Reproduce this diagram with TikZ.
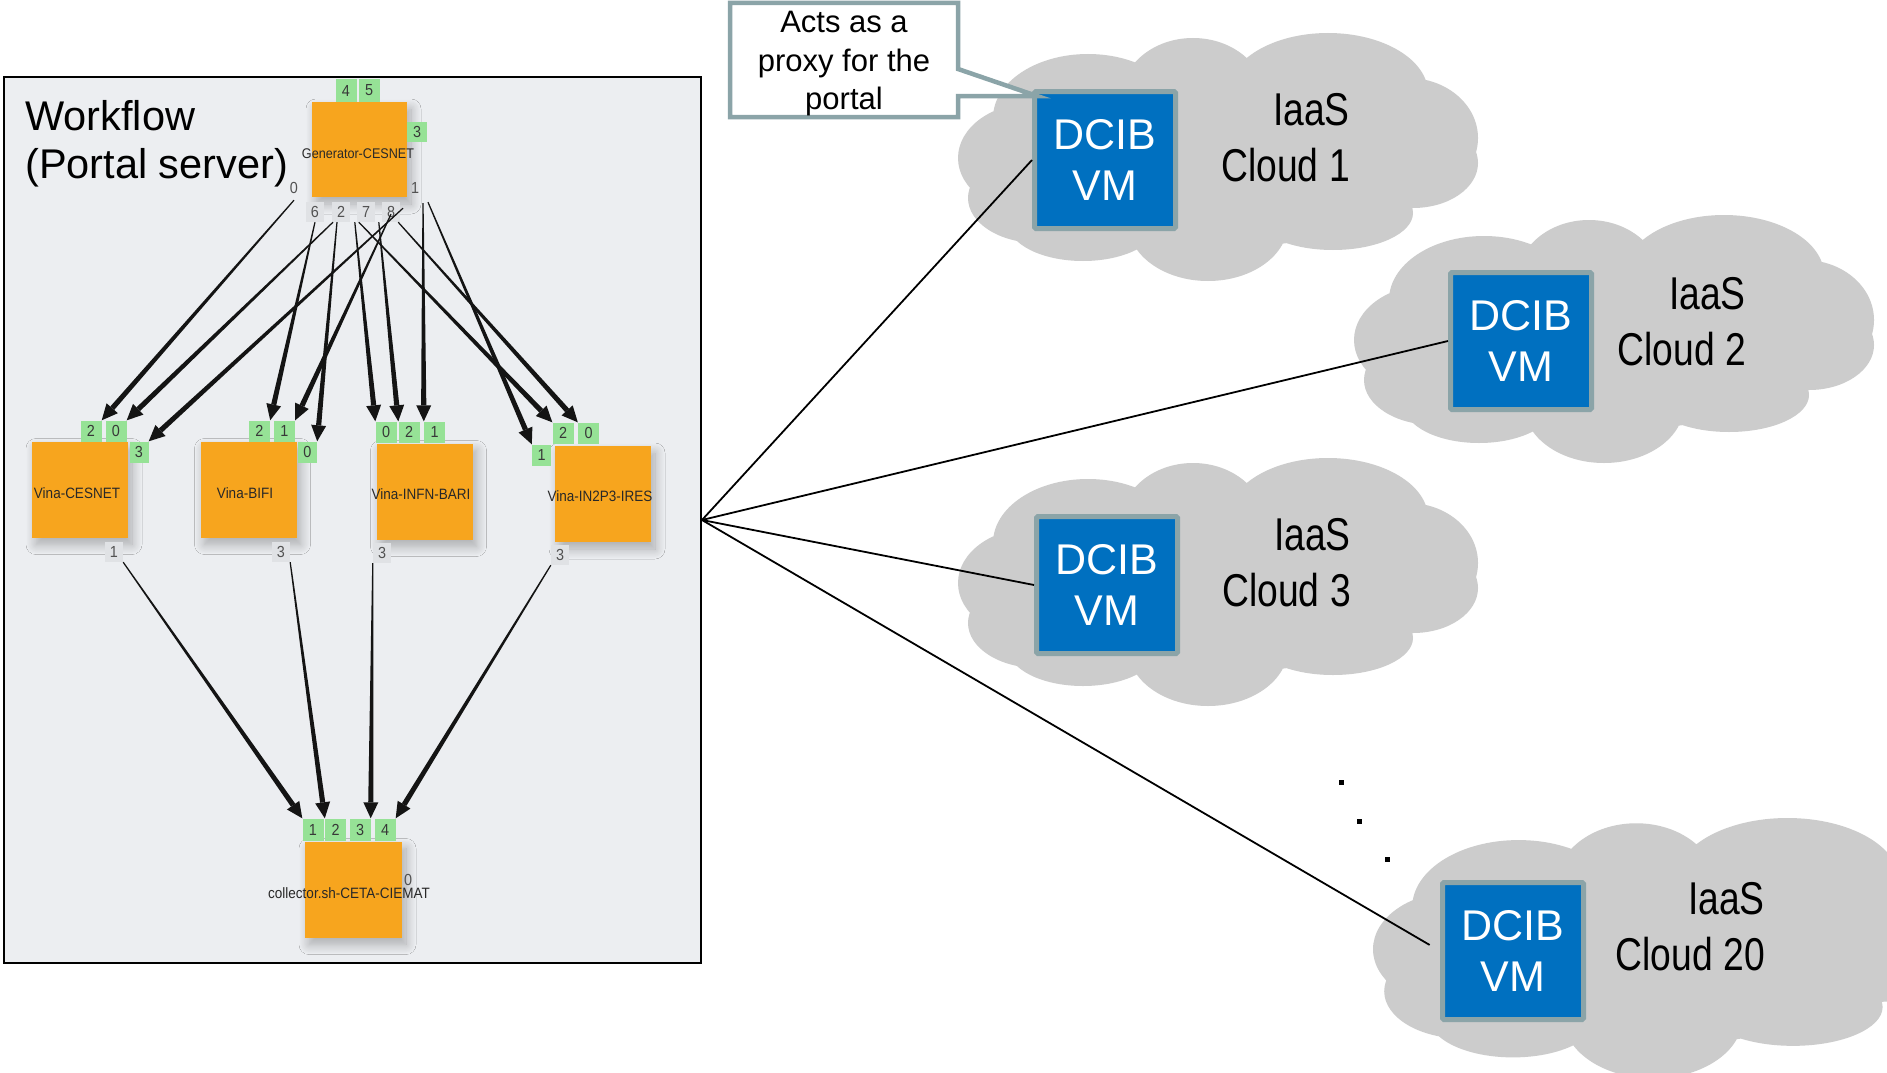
\documentclass[tikz,border=0pt]{standalone}
\usepackage{fontspec}
\setmainfont{Liberation Sans}
\newfontfamily\narrowsans[FakeStretch=0.81]{Liberation Sans}
\newfontfamily\uisans[FakeStretch=0.9]{Liberation Sans}
\usetikzlibrary{calc,shadows.blur}

\definecolor{cloudgray}{RGB}{204,204,204}
\definecolor{vmblue}{RGB}{0,112,192}
\definecolor{tealgray}{RGB}{139,164,168}
\definecolor{panelbg}{RGB}{236,238,241}
\definecolor{jobfill}{RGB}{247,165,30}
\definecolor{portgreen}{RGB}{150,226,150}
\definecolor{portgray}{RGB}{224,226,229}
\definecolor{labelink}{RGB}{40,40,40}
\definecolor{flowink}{RGB}{20,20,20}

% tapered workflow edge with a solid head: #1 = start, #2 = tip
\newcommand\flowarrow[2]{%
  \coordinate (fa-base) at ($(#2)!16pt!(#1)$);
  \fill[flowink] ($(#1)!0.6pt!90:(#2)$) -- ($(fa-base)!2.6pt!-90:(#1)$)
     -- ($(fa-base)!2.6pt!90:(#1)$) -- ($(#1)!0.6pt!-90:(#2)$) -- cycle;
  \fill[flowink] (#2) -- ($(fa-base)!7.5pt!90:(#1)$) -- ($(fa-base)!7.5pt!-90:(#1)$) -- cycle;
}

\tikzset{
  panel/.style={draw=black, line width=2pt, fill=panelbg, inner sep=0pt,
    minimum width=697pt, minimum height=886pt},
  job/.style={fill=jobfill, inner sep=0pt, minimum width=96pt, minimum height=96pt,
    blur shadow={shadow xshift=4pt, shadow yshift=-7pt, shadow blur radius=10pt,
      shadow blur steps=12, shadow opacity=28}},
  joblabel/.style={font=\uisans\fontsize{15}{15}\selectfont, text=labelink, inner sep=0pt},
  inport/.style={fill=portgreen, inner sep=0pt, minimum width=21pt, minimum height=21pt,
    font=\uisans\fontsize{16}{16}\selectfont, text=black!78},
  outport/.style={fill=portgray, inner sep=0pt, minimum width=18pt, minimum height=20pt,
    font=\uisans\fontsize{16}{16}\selectfont, text=black!68},
  vm/.style={fill=vmblue, draw=tealgray, line width=5pt, rounded corners=1.5pt,
    minimum width=141pt, minimum height=137pt, inner sep=0pt, align=center,
    text=white, font=\fontsize{43}{51}\selectfont},
  cloudlabel/.style={anchor=north east, inner sep=0pt, align=right,
    font=\narrowsans\fontsize{46}{56}\selectfont},
  link/.style={line width=1.8pt, black},
  pics/iaascloud/.style={code={
    \fill[cloudgray]
      (75,125) ellipse [x radius=75pt, y radius=55pt]
      (80,165) ellipse [x radius=70pt, y radius=45pt]
      (130,85) ellipse [x radius=95pt, y radius=64pt]
      (235,65) ellipse [x radius=72pt, y radius=60pt]
      (370,60) ellipse [x radius=100pt, y radius=60pt]
      (450,105) ellipse [x radius=70pt, y radius=60pt]
      (455,130) ellipse [x radius=65pt, y radius=45pt]
      (375,180) ellipse [x radius=80pt, y radius=37pt]
      (250,190) ellipse [x radius=80pt, y radius=58pt]
      (125,190) ellipse [x radius=75pt, y radius=38pt]
      (260,125) ellipse [x radius=210pt, y radius=90pt];
  }}
}

\begin{document}
\begin{tikzpicture}[x=1pt, y=-1pt]
\useasboundingbox (0,0) rectangle (1887,1073);
\clip (0,0) rectangle (1887,1073);
\fill[white] (0,0) rectangle (1887,1073);

% IaaS clouds
\pic (cloud1) at (958,33) {iaascloud};
\pic (cloud2) at (1354,215) {iaascloud};
\pic (cloud3) at (958,458) {iaascloud};
\pic[xscale=1.12, yscale=1.05] (cloud20) at (1373,818) {iaascloud};

% DCIB virtual machines
\node[vm] (vm1) at (1105,160) {DCIB\\VM};
\node[vm] (vm2) at (1521,341) {DCIB\\VM};
\node[vm] (vm3) at (1107,585) {DCIB\\VM};
\node[vm] (vm20) at (1513,951) {DCIB\\VM};

\node[cloudlabel] (lbl1) at (1350,93) {IaaS\\Cloud 1};
\node[cloudlabel] (lbl2) at (1746,277) {IaaS\\Cloud 2};
\node[cloudlabel] (lbl3) at (1351,518) {IaaS\\Cloud 3};
\node[cloudlabel] (lbl20) at (1765,882) {IaaS\\Cloud 20};

% more clouds follow
\fill (1338.5,779.5) rectangle +(5,5);
\fill (1356.5,818.5) rectangle +(5,5);
\fill (1384.5,856.5) rectangle +(5,5);

% workflow panel
\node[panel] (wf) at (352.5,520) {};

% connections from the portal server to the DCIB VMs
\draw[link] (wf.east) -- (vm1.west);
\draw[link] (wf.east) -- (vm2.west);
\draw[link] (wf.east) -- (vm3.west);
\draw[link, shorten >=12pt] (wf.east) -- (vm20.west);

% callout
\coordinate (notetip) at ([xshift=5pt, yshift=-7pt]vm1.north west);
\draw[line width=4.5pt, draw=tealgray, fill=white, line join=miter]
  (730,3) -- (958,3) -- (958,69) -- (notetip) -- (958,96) -- (958,117) -- (730,117) -- cycle;
\node[align=center, inner sep=0pt, font=\fontsize{31}{38.5}\selectfont] (note) at (844,64)
  {Acts as a\\proxy for the\\portal};

% workflow jobs
\node[job, minimum width=95pt, minimum height=95pt] (gen) at (359.5,149.5) {};
\node[job] (vces) at (80,489.5) {};
\node[job] (vbifi) at (248.5,489.5) {};
\node[job] (vinfn) at (424.5,491.5) {};
\node[job] (vires) at (603,494) {};
\node[job, minimum width=97pt, minimum height=96pt] (coll) at (353.5,889.5) {};

\node[anchor=north west, inner sep=0pt, align=left, font=\fontsize{41.5}{48}\selectfont]
  (wftitle) at (25,100) {Workflow\\(Portal server)};

\node[joblabel, font=\uisans\fontsize{14}{14}\selectfont] (genlbl) at (358,154) {Generator-CESNET};
\node[joblabel] (vceslbl) at (77,493) {Vina-CESNET};
\node[joblabel] (vbifilbl) at (245,493) {Vina-BIFI};
\node[joblabel] (vinfnlbl) at (421,494) {Vina-INFN-BARI};
\node[joblabel] (vireslbl) at (600,496) {Vina-IN2P3-IRES};
\node[joblabel] (colllbl) at (349,893) {collector.sh-CETA-CIEMAT};

% ports of Generator-CESNET
\node[inport, minimum height=23pt] (g4) at (346,90.5) {4};
\node[inport, minimum height=23pt] (g5) at (369,90.5) {5};
\node[inport, minimum width=20pt, minimum height=20pt] (g3) at (417,132) {3};
\node[outport, fill=none] (o0) at (294,188) {0};
\node[outport, fill=none] (o1) at (415,188) {1};
\node[outport] (o6) at (315,212) {6};
\node[outport] (o2) at (341,212) {2};
\node[outport] (o7) at (366,212) {7};
\node[outport] (o8) at (391,212) {8};

% ports of the Vina jobs
\node[inport] (c2) at (91,431) {2};
\node[inport] (c0) at (116,431) {0};
\node[inport, minimum width=19pt] (c3) at (139,452) {3};
\node[inport] (b2) at (259.5,431) {2};
\node[inport] (b1) at (284.5,431) {1};
\node[inport, minimum width=19pt] (b0) at (307.5,452) {0};
\node[inport] (i0) at (386,432) {0};
\node[inport] (i2) at (409,432) {2};
\node[inport] (i1) at (434.5,432) {1};
\node[inport] (r2) at (563,433) {2};
\node[inport] (r0) at (588.5,433) {0};
\node[inport, minimum width=19pt] (r1) at (541.5,455) {1};

\node[outport] (oc1) at (114,552) {1};
\node[outport] (ob3) at (281,552) {3};
\node[outport] (oi3) at (382,553) {3};
\node[outport] (or3) at (560,555) {3};

% ports of the collector
\node[inport, minimum height=22pt] (k1) at (313,829.5) {1};
\node[inport, minimum height=22pt] (k2) at (335.5,829.5) {2};
\node[inport, minimum height=22pt] (k3) at (360,829.5) {3};
\node[inport, minimum height=22pt] (k4) at (385,829.5) {4};
\node[outport, fill=none] (k0) at (408,880) {0};

% start points of the generator edges
\coordinate (s-c2) at ([yshift=-2pt]o0.south);
\coordinate (s-c0) at ([xshift=-8pt]o2.south);
\coordinate (s-b2) at (o6.south);
\coordinate (s-b0) at ([xshift=-4pt]o2.south);
\coordinate (s-i0) at ([xshift=-2pt]o7.south west);
\coordinate (s-r2) at ([xshift=2pt]o7.south west);
\coordinate (s-i2) at ([xshift=-3pt]o8.south west);
\coordinate (s-r0) at ([xshift=-2pt]o8.south east);
\coordinate (s-b1) at ([yshift=8pt]o8.south);
\coordinate (s-c3) at ([xshift=-12pt, yshift=-10pt]o1.south);
\coordinate (s-i1) at ([xshift=8pt, yshift=-5pt]o1.south);
\coordinate (s-r1) at ([xshift=13pt, yshift=-4pt]o1.south);

\flowarrow{s-c2}{c2.north east}
\flowarrow{s-c0}{c0.north east}
\flowarrow{s-c3}{c3.north east}
\flowarrow{s-b2}{b2.north east}
\flowarrow{s-b1}{b1.north east}
\flowarrow{s-b0}{b0.north east}
\flowarrow{s-i0}{i0.north west}
\flowarrow{s-i2}{i2.north west}
\flowarrow{s-i1}{i1.north west}
\flowarrow{s-r2}{r2.north west}
\flowarrow{s-r0}{r0.north west}
\flowarrow{s-r1}{r1.north west}

% edges into the collector
\flowarrow{oc1.south east}{k1.north west}
\flowarrow{ob3.south east}{k2.north west}
\flowarrow{oi3.south west}{k3.north east}
\flowarrow{or3.south west}{k4.north east}
\end{tikzpicture}
\end{document}
